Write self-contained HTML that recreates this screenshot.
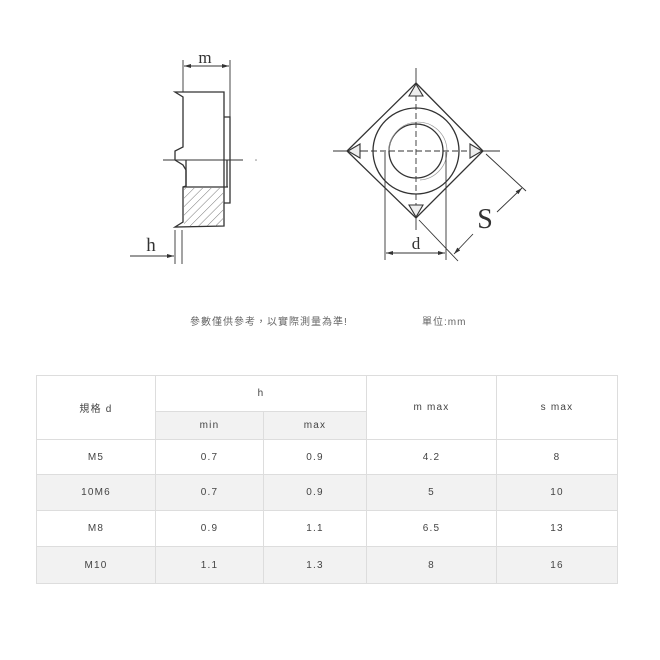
<!DOCTYPE html>
<html><head><meta charset="utf-8"><style>
body{margin:0;width:660px;height:660px;background:#fff;position:relative;overflow:hidden;font-family:"Liberation Sans","Noto Sans CJK TC",sans-serif;}
svg{position:absolute;left:0;top:0}
.note{position:absolute;top:313px;font-size:10px;color:#666;letter-spacing:1px;white-space:nowrap}
table{position:absolute;left:36px;top:375px;border-collapse:collapse;font-size:10px;color:#444;letter-spacing:1.2px}
td{border:1px solid #ddd;text-align:center;padding:0}
tr.g td{background:#f2f2f2}
td.s{background:#f2f2f2}
</style></head><body>
<svg width="660" height="300" viewBox="0 0 660 300">
<defs><pattern id="h" patternUnits="userSpaceOnUse" width="6" height="6" patternTransform="rotate(45)"><line x1="0" y1="0" x2="0" y2="6" stroke="#777" stroke-width="1"/></pattern>
<marker id="a" markerUnits="userSpaceOnUse" markerWidth="7" markerHeight="4" refX="7" refY="2" orient="auto-start-reverse"><path d="M0,0 L7,2 L0,4 Z" fill="#333"/></marker></defs>
<g stroke="#333" stroke-width="1.3" fill="none">
<line x1="183" y1="60" x2="183" y2="92" stroke-width="0.9"/>
<line x1="230" y1="60" x2="230" y2="117" stroke-width="0.9"/>
<line x1="184" y1="66" x2="229" y2="66" stroke-width="0.9" marker-start="url(#a)" marker-end="url(#a)"/>
<path d="M175,92 L224,92 L224,226 L175,227 L183,222 L183,187 L186,186 L186,170 L183,165 L175,160 L175,151 L183,147 L183,97 Z"/>
<path d="M224,117 L230,117 L230,203 L224,203"/>
<line x1="186" y1="160" x2="186" y2="187"/>
<line x1="227" y1="160" x2="227" y2="187"/>
<line x1="183" y1="187" x2="228" y2="187"/>
<rect x="184" y="188" width="39" height="38" fill="url(#h)" stroke="none"/>
<line x1="163" y1="160" x2="243" y2="160" stroke-width="0.9"/>
<line x1="175" y1="230" x2="175" y2="264" stroke-width="0.9"/>
<line x1="182" y1="230" x2="182" y2="264" stroke-width="0.9"/>
<line x1="130" y1="256" x2="174" y2="256" stroke-width="0.9" marker-end="url(#a)"/>
<polygon points="416,83 483,151 416,218 347,151"/>
<circle cx="416" cy="151" r="43"/>
<circle cx="416" cy="151" r="27"/>
<path d="M389,151 A29,29 0 1,1 420,180" stroke-width="0.7" stroke="#999"/>
<line x1="333" y1="151" x2="362" y2="151" stroke-width="0.9"/>
<line x1="362" y1="151" x2="470" y2="151" stroke-width="0.9" stroke-dasharray="6,3"/>
<line x1="470" y1="151" x2="500" y2="151" stroke-width="0.9"/>
<line x1="416" y1="68" x2="416" y2="95" stroke-width="0.9"/>
<line x1="416" y1="95" x2="416" y2="208" stroke-width="0.9" stroke-dasharray="6,3"/>
<line x1="416" y1="208" x2="416" y2="230" stroke-width="0.9"/>
<path d="M416,84 L409,96 L423,96 Z" fill="#eee" stroke-width="1.1"/>
<path d="M416,217 L409,205 L423,205 Z" fill="#eee" stroke-width="1.1"/>
<path d="M348,151 L360,144 L360,158 Z" fill="#eee" stroke-width="1.1"/>
<path d="M482,151 L470,144 L470,158 Z" fill="#eee" stroke-width="1.1"/>
<line x1="385" y1="152" x2="385" y2="260" stroke-width="0.9"/>
<line x1="446" y1="152" x2="446" y2="260" stroke-width="0.9"/>
<line x1="386" y1="253" x2="445" y2="253" stroke-width="0.9" marker-start="url(#a)" marker-end="url(#a)"/>
<line x1="486" y1="154" x2="526" y2="191" stroke-width="0.9"/>
<line x1="419" y1="220" x2="458" y2="261" stroke-width="0.9"/>
<line x1="497" y1="212" x2="522" y2="188" stroke-width="0.9" marker-end="url(#a)"/>
<line x1="473" y1="234" x2="454" y2="254" stroke-width="0.9" marker-end="url(#a)"/>
</g>
<g fill="#333" font-family="'Liberation Serif',serif">
<text x="205" y="63" font-size="17" text-anchor="middle">m</text>
<text x="151" y="251" font-size="19" text-anchor="middle">h</text>
<text x="416" y="249" font-size="17" text-anchor="middle">d</text>
<text x="485" y="228" font-size="28" text-anchor="middle">S</text>
</g>
<circle cx="256" cy="160" r="0.8" fill="#888"/>
</svg>
<div class="note" style="left:190px">參數僅供參考，以實際測量為準!</div>
<div class="note" style="left:422px">單位:mm</div>
<table>
<tr style="height:36px"><td rowspan="2" style="width:118px">規格 d</td><td colspan="2">h</td><td rowspan="2" style="width:129px">m max</td><td rowspan="2" style="width:120px">s max</td></tr>
<tr style="height:28px"><td class="s" style="width:107px">min</td><td class="s" style="width:102px">max</td></tr>
<tr style="height:35px"><td>M5</td><td>0.7</td><td>0.9</td><td>4.2</td><td>8</td></tr>
<tr class="g" style="height:36px"><td>10M6</td><td>0.7</td><td>0.9</td><td>5</td><td>10</td></tr>
<tr style="height:36px"><td>M8</td><td>0.9</td><td>1.1</td><td>6.5</td><td>13</td></tr>
<tr class="g" style="height:37px"><td>M10</td><td>1.1</td><td>1.3</td><td>8</td><td>16</td></tr>
</table>
</body></html>
